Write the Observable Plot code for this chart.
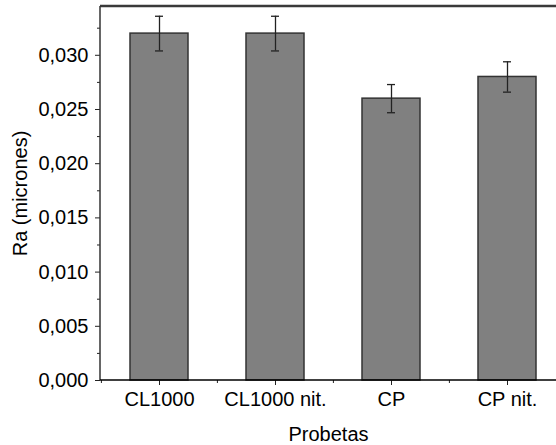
<!DOCTYPE html>
<html>
<head>
<meta charset="utf-8">
<script src="https://cdn.jsdelivr.net/npm/d3@7"></script>
<script src="https://cdn.jsdelivr.net/npm/@observablehq/plot@0.6"></script>
<style>
html, body { margin: 0; padding: 0; overflow: hidden; background: #fff; }
</style>
</head>
<body>
<div id="chart"></div>
<script>
const categories = ["CL1000", "CL1000 nit.", "CP", "CP nit."];
const values = [0.0320, 0.0320, 0.0260, 0.0280];
const errors = [0.0016, 0.0016, 0.0013, 0.0014];
const yTicks = [0, 0.005, 0.010, 0.015, 0.020, 0.025, 0.030];
const yMinorTicks = [0.0025, 0.0075, 0.0125, 0.0175, 0.0225, 0.0275, 0.0325];

const data = categories.map((c, i) => ({cat: c, val: values[i], lo: values[i] - errors[i], hi: values[i] + errors[i]}));
const fmt = d => d3.format(".3f")(d).replace(".", ",");
const font = "Liberation Sans, Arial, sans-serif";

// frame lines (left, top, bottom) drawn from plot dimensions
const frameLines = (index, scales, values, dims) => {
  const g = d3.create("svg:g");
  const l = dims.marginLeft, t = dims.marginTop, b = dims.height - dims.marginBottom, r = dims.width;
  g.append("line").attr("x1", l).attr("x2", r).attr("y1", t).attr("y2", t).attr("stroke", "#3a3a3a").attr("stroke-width", 2.5);
  g.append("line").attr("x1", l).attr("x2", l).attr("y1", t).attr("y2", b).attr("stroke", "#333").attr("stroke-width", 1.5);
  g.append("line").attr("x1", l).attr("x2", r).attr("y1", b).attr("y2", b).attr("stroke", "#000").attr("stroke-width", 1.5);
  return g.node();
};

const chart = Plot.plot({
  width: 556,
  height: 445,
  marginLeft: 100,
  marginRight: 0,
  marginTop: 6,
  marginBottom: 65,
  style: {fontFamily: font, fontSize: "20px", color: "#000", background: "#fff"},
  x: {type: "band", domain: categories, range: [100, 565], paddingInner: 0.5, paddingOuter: 0.25},
  y: {domain: [0, 0.0345]},
  marks: [
    Plot.barY(data, {x: "cat", y: "val", fill: "#808080", stroke: "#333", strokeWidth: 1.5}),
    Plot.ruleX(data, {x: "cat", y1: "lo", y2: "hi", stroke: "#222", strokeWidth: 1.3}),
    Plot.tickY(data, {x: "cat", y: "lo", stroke: "#222", strokeWidth: 1.3, insetLeft: 25, insetRight: 25}),
    Plot.tickY(data, {x: "cat", y: "hi", stroke: "#222", strokeWidth: 1.3, insetLeft: 25, insetRight: 25}),
    Plot.axisY({anchor: "left", ticks: yTicks, tickFormat: fmt, tickSize: 5, tickPadding: 7, stroke: "#222", label: "Ra (micrones)", labelAnchor: "center", labelArrow: "none", labelOffset: 88, fontSize: 20}),
    Plot.axisY({anchor: "left", ticks: yMinorTicks, tickSize: 3, text: null, label: null, stroke: "#222"}),
    Plot.axisX({anchor: "bottom", tickSize: 5, tickPadding: 6, stroke: "#222", label: "Probetas", labelAnchor: "center", labelArrow: "none", labelOffset: 60, fontSize: 20}),
    Plot.axisX({anchor: "bottom", ticks: categories, tickSize: 3, text: null, label: null, dx: -58.1, stroke: "#222"}),
    frameLines
  ]
});
document.getElementById("chart").appendChild(chart);
</script>
</body>
</html>
